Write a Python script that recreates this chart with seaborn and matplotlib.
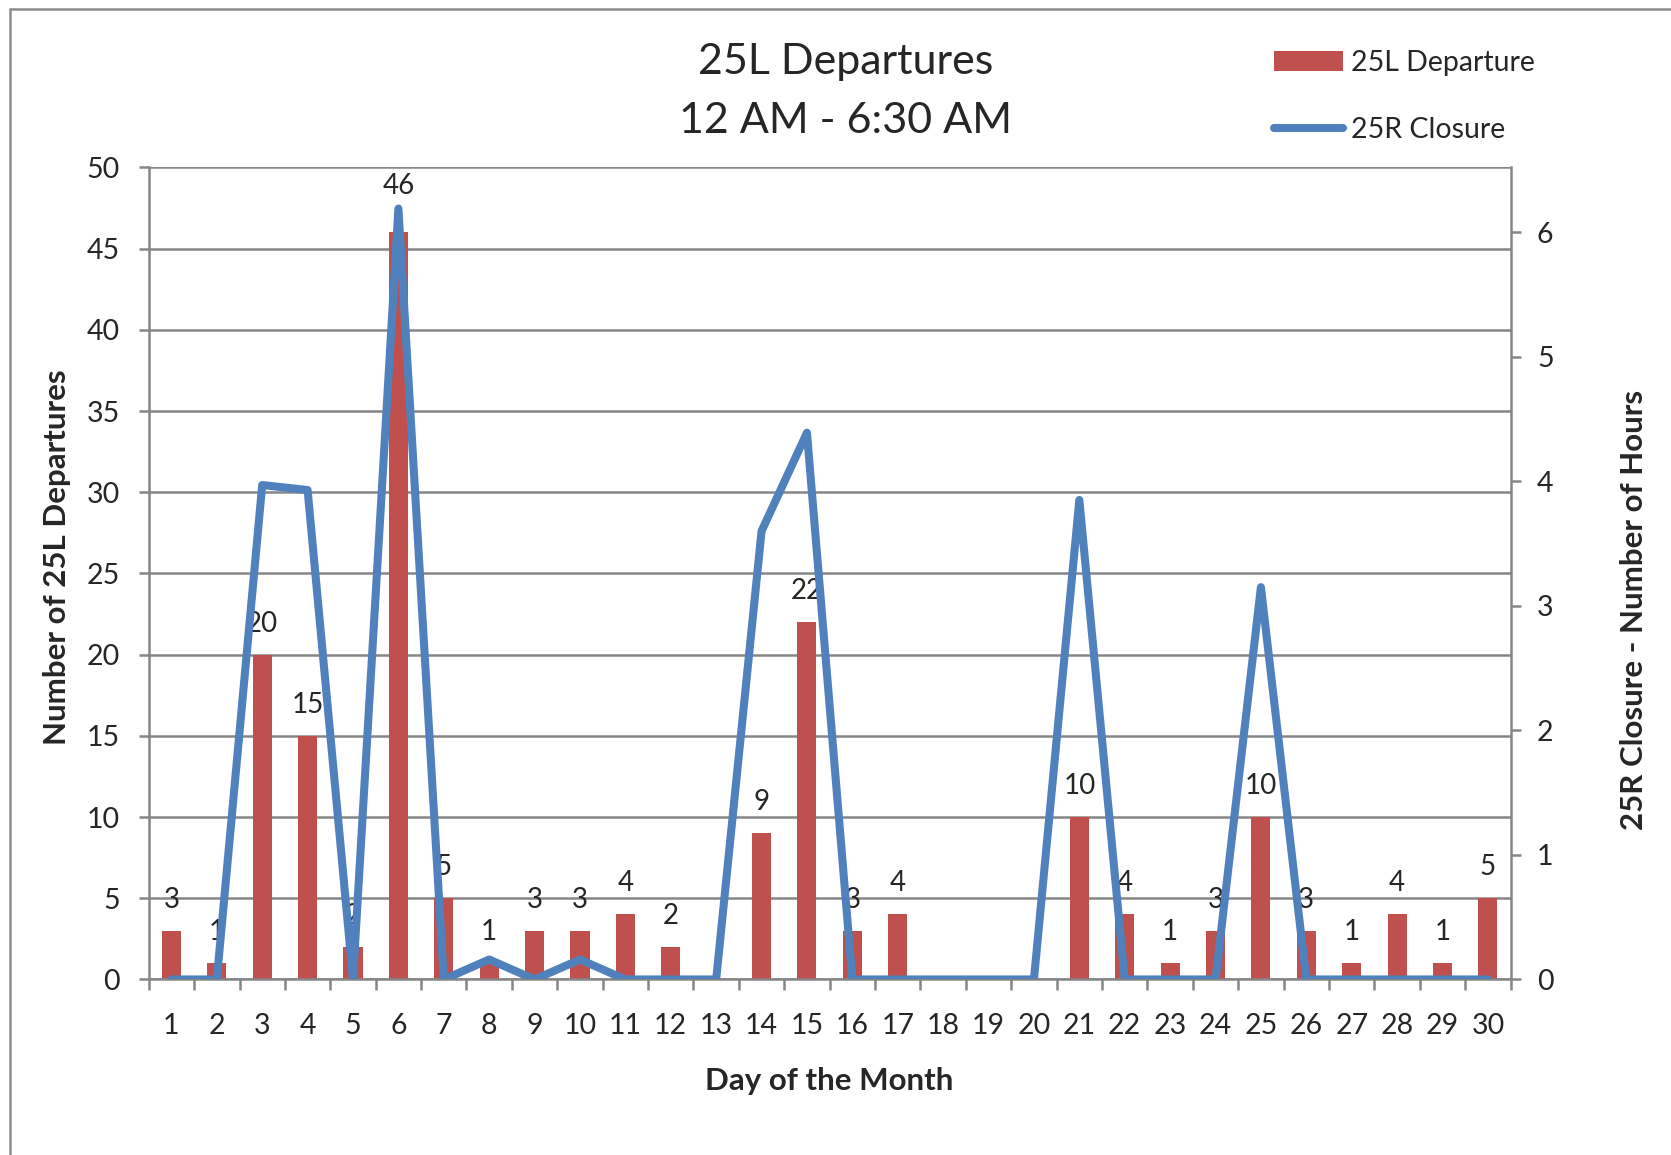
import numpy as np
import pandas as pd
import matplotlib.pyplot as plt
import seaborn as sns
from matplotlib.lines import Line2D

# data
days = list(range(1, 31))
departures = [3, 1, 20, 15, 2, 46, 5, 1, 3, 3, 4, 2, 0, 9, 22,
              3, 4, 0, 0, 0, 10, 4, 1, 3, 10, 3, 1, 4, 1, 5]
closure_hours = [0, 0, 3.97, 3.93, 0, 6.19, 0, 0.16, 0, 0.16, 0, 0, 0, 3.6, 4.39,
                 0, 0, 0, 0, 0, 3.85, 0, 0, 0, 3.15, 0, 0, 0, 0, 0]

BAR_COLOR = '#C0504D'
LINE_COLOR = '#4F81BD'
GRID_COLOR = '#868686'
LINE_W = 5.8

sns.set_style('white')
plt.rcParams['font.family'] = ['Lato', 'DejaVu Sans']

df = pd.DataFrame({'day': days, 'dep': departures, 'closure': closure_hours})

fig = plt.figure(figsize=(16.71, 11.55), dpi=100)
ax = fig.add_axes([0.089, 0.152, 0.815, 0.703])

sns.barplot(data=df, x='day', y='dep', color=BAR_COLOR, saturation=1,
            width=0.42, linewidth=0, ax=ax)
ax.set_xlim(-0.5, len(days) - 0.5)
ax.set_ylim(0, 50)
ax.set_yticks(np.arange(0, 51, 5))
ax.yaxis.grid(True, color=GRID_COLOR, lw=1.8)
ax.set_axisbelow(True)

# value labels above bars (the 46 label sits a bit higher in the original)
texts = ax.bar_label(ax.containers[0],
                     labels=[str(v) if v > 0 else '' for v in departures],
                     padding=13, fontsize=20)
for t, v in zip(texts, departures):
    if v == max(departures):
        t.set_position((0, 24))

# x ticks between categories
ax.set_xticks(np.arange(-0.5, len(days), 1), minor=True)
ax.tick_params(axis='x', which='major', length=0, pad=24, labelsize=20.5)
ax.tick_params(axis='x', which='minor', length=8, width=1.8, color=GRID_COLOR,
               direction='out', bottom=True)
ax.tick_params(axis='y', length=7, width=1.8, color=GRID_COLOR, pad=14,
               labelsize=20.5, left=True)

for side in ['left', 'bottom', 'right']:
    ax.spines[side].set_color(GRID_COLOR)
    ax.spines[side].set_linewidth(1.8)
ax.spines['top'].set_visible(False)

ax.set_xlabel('Day of the Month', fontsize=22.5, fontweight='bold')
ax.xaxis.set_label_coords(0.5, -0.108)
ax.set_ylabel('Number of 25L Departures', fontsize=22.5, fontweight='bold')
ax.yaxis.set_label_coords(-0.057, 0.52)

# right axis: closure hours
ax2 = ax.twinx()
sns.lineplot(x=np.arange(len(days)), y=closure_hours, ax=ax2, color=LINE_COLOR,
             lw=LINE_W, solid_joinstyle='round', solid_capstyle='round')
ax2.set_ylim(0, 6.52)
ax2.set_yticks(range(0, 7))
ax2.tick_params(axis='y', length=7, width=1.8, color=GRID_COLOR, pad=12,
                labelsize=20.5, right=True)
for side in ['left', 'bottom', 'right', 'top']:
    ax2.spines[side].set_visible(False)
ax2.set_ylabel('25R Closure - Number of Hours', fontsize=22.5, fontweight='bold')
ax2.yaxis.set_label_coords(1.080, 0.455)

# title
fig.text(0.506, 0.946, '25L Departures', ha='center', va='center', fontsize=31)
fig.text(0.506, 0.895, '12 AM - 6:30 AM', ha='center', va='center', fontsize=31)

# legend
handles = [ax.containers[0].patches[0],
           Line2D([0], [0], color=LINE_COLOR, lw=LINE_W, solid_capstyle='round')]
fig.legend(handles, ['25L Departure', '25R Closure'], loc='upper left',
           bbox_to_anchor=(0.754, 0.969), frameon=False, fontsize=20.5,
           handlelength=2.4, handleheight=0.7, handletextpad=0.3,
           labelspacing=1.45, borderpad=0)

# outer chart border (top and left edges visible)
fig.add_artist(Line2D([0.006, 1.0], [1 - 8.5 / 1155] * 2, color='#8c8c8c', lw=1.8))
fig.add_artist(Line2D([0.006, 0.006], [0.0, 1 - 8.5 / 1155], color='#8c8c8c', lw=1.8))

fig.savefig('out.png', dpi=100)
